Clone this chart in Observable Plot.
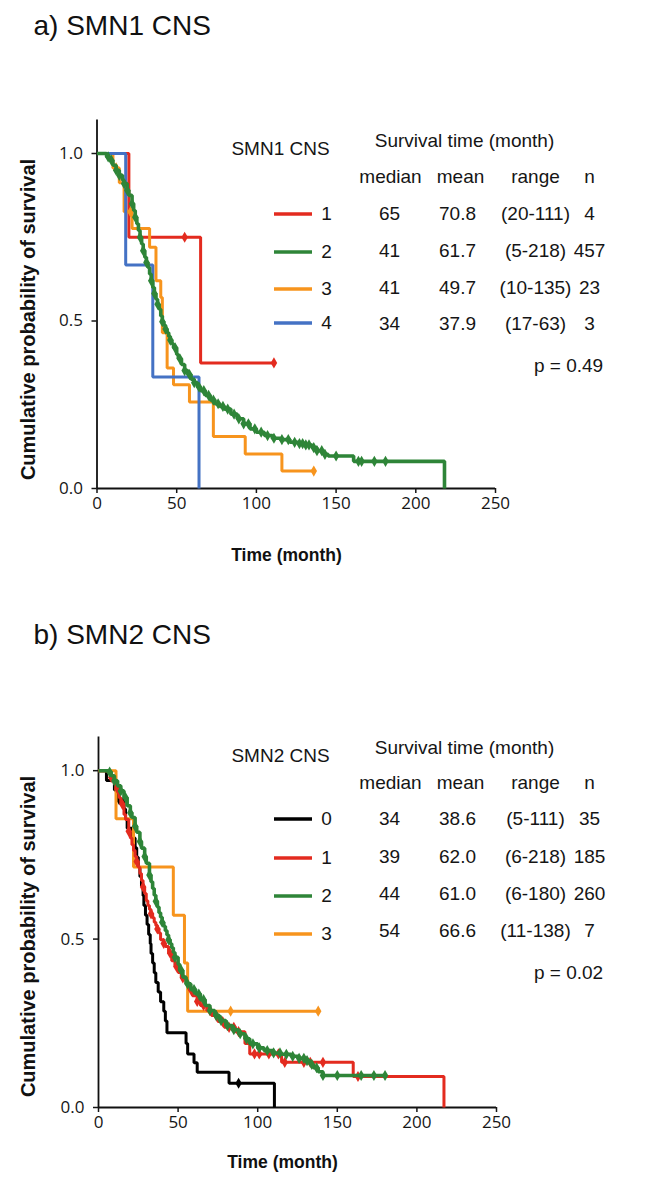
<!DOCTYPE html>
<html><head><meta charset="utf-8">
<script src="https://cdn.jsdelivr.net/npm/d3@7"></script>
<script src="https://cdn.jsdelivr.net/npm/@observablehq/plot@0.6"></script>
<style>
html,body{margin:0;padding:0;background:#fff;}
#chart{width:649px;height:1183px;}
svg{display:block;}
</style></head><body><div id="chart"></div>
<script>
// ---------- shared ----------
const xTicks = [0, 50, 100, 150, 200, 250];
const yTicks = [0, 0.5, 1.0];
const xLabel = "Time (month)";
const yLabel = "Cumulative probability of survival";
const colHeader = "Survival time (month)";
const colNames = ["median", "mean", "range", "n"];

// ---------- panel a: SMN1 CNS ----------
const aTitle = "a) SMN1 CNS";
const aLegendTitle = "SMN1 CNS";
const aGroups = ["1", "2", "3", "4"];
const aColors = ["#e32b1f", "#2e8538", "#f7941d", "#4472c4"];
const aMedian = ["65", "41", "41", "34"];
const aMean = ["70.8", "61.7", "49.7", "37.9"];
const aRange = ["(20-111)", "(5-218)", "(10-135)", "(17-63)"];
const aN = ["4", "457", "23", "3"];
const aP = "p = 0.49";
// Kaplan–Meier steps: [time (month), survival after step]
const aSteps1 = [[0,1],[20,0.75],[65,0.375]];
const aSteps2 = [[0,1],[6,0.99],[8,0.98],[10,0.965],[12,0.95],[14,0.935],[16,0.92],[17,0.91],[19,0.89],[20,0.875],[22,0.85],[23,0.83],[24,0.81],[25,0.79],[26,0.77],[27,0.75],[28,0.73],[29,0.71],[30,0.69],[31,0.675],[32,0.66],[33,0.64],[34,0.62],[35,0.6],[36,0.582],[37,0.565],[38,0.55],[39,0.535],[40,0.515],[41,0.498],[42,0.487],[43,0.476],[44,0.465],[45,0.454],[46,0.443],[47,0.432],[48,0.42],[50,0.4],[51,0.387],[53,0.37],[55,0.352],[57,0.34],[59,0.326],[61,0.316],[63,0.303],[65,0.292],[68,0.278],[71,0.264],[74,0.253],[77,0.245],[80,0.237],[84,0.222],[88,0.208],[92,0.193],[96,0.178],[100,0.168],[105,0.158],[110,0.15],[115,0.146],[121,0.138],[126,0.134],[131,0.13],[135,0.122],[138,0.113],[142,0.102],[145,0.097],[161,0.081],[218,0]];
const aSteps3 = [[0,1],[10,0.957],[14,0.913],[17,0.826],[22,0.776],[33,0.72],[37,0.62],[40,0.57],[41,0.465],[44,0.36],[48,0.31],[58,0.258],[73,0.155],[93,0.103],[116,0.052]];
const aSteps4 = [[0,1],[18,0.667],[35,0.333],[64,0]];
const aEnd = [111, 218, 136, 64];
const aCens1 = [55, 111];
const aCens2 = [7,9,12,14,17,19,22,24,27,29,31,34,36,38,41,43,46,49,52,55,58,61,64,67,70,73,76,79,82,86,89,92,95,99,103,107,111,116,120,124,127,129,131,133,136,138,141,143,150,164,166,174,181];
const aCens3 = [12, 21, 136];
const aCens4 = [];

// ---------- panel b: SMN2 CNS ----------
const bTitle = "b) SMN2 CNS";
const bLegendTitle = "SMN2 CNS";
const bGroups = ["0", "1", "2", "3"];
const bColors = ["#000000", "#e32b1f", "#2e8538", "#f7941d"];
const bMedian = ["34", "39", "44", "54"];
const bMean = ["38.6", "62.0", "61.0", "66.6"];
const bRange = ["(5-111)", "(6-218)", "(6-180)", "(11-138)"];
const bN = ["35", "185", "260", "7"];
const bP = "p = 0.02";
const bSteps0 = [[0,1],[5,0.971],[10,0.943],[12,0.914],[16,0.886],[17,0.857],[18,0.829],[21,0.8],[23,0.771],[24,0.743],[25,0.714],[26,0.686],[27,0.657],[28,0.629],[28.5,0.6],[29.5,0.571],[30.5,0.543],[31.5,0.514],[32.5,0.486],[33,0.457],[34,0.429],[35,0.4],[36,0.371],[37.5,0.343],[39,0.314],[41,0.286],[42,0.257],[43,0.222],[55,0.19],[56,0.159],[60,0.133],[62,0.105],[82,0.072],[110.5,0]];
const bSteps1 = [[0,1],[6,0.995],[8,0.98],[10,0.96],[11,0.945],[13,0.92],[14,0.9],[16,0.87],[17,0.855],[19,0.82],[20,0.8],[21,0.78],[22,0.763],[23,0.745],[24,0.73],[25,0.713],[26,0.695],[27,0.674],[28,0.655],[29,0.635],[30,0.614],[31,0.6],[32,0.588],[33,0.575],[34,0.563],[35,0.55],[36,0.54],[37,0.53],[38,0.518],[39,0.498],[41,0.487],[42,0.478],[44,0.458],[46,0.436],[48,0.418],[50,0.401],[52,0.385],[55,0.367],[57,0.35],[59,0.332],[62,0.315],[64,0.303],[68,0.288],[71,0.273],[75,0.255],[79,0.238],[86,0.225],[92,0.19],[95,0.159],[115,0.134],[160,0.092],[217,0]];
const bSteps2 = [[0,1],[6,0.996],[8,0.985],[10,0.97],[12,0.955],[14,0.94],[16,0.92],[18,0.896],[20,0.875],[21,0.861],[23,0.835],[24,0.817],[26,0.79],[27,0.77],[29,0.745],[30,0.725],[32,0.69],[33,0.67],[34,0.65],[35,0.63],[36,0.612],[37,0.595],[38,0.578],[39,0.565],[40,0.55],[41,0.538],[42,0.525],[43,0.512],[44,0.498],[45,0.486],[46,0.474],[47,0.46],[48,0.446],[50,0.425],[51,0.407],[53,0.387],[55,0.367],[58,0.35],[61,0.337],[64,0.32],[67,0.303],[70,0.288],[73,0.273],[76,0.258],[80,0.243],[84,0.231],[88,0.219],[92,0.204],[95,0.189],[100,0.177],[104,0.169],[110,0.162],[115,0.158],[121,0.152],[126,0.146],[131,0.139],[133,0.128],[135,0.118],[138,0.106],[141,0.095]];
const bSteps3 = [[0,1],[11,0.857],[22,0.714],[47,0.571],[54,0.429],[56,0.286]];
const bEnd = [110.5, 217, 180, 138];
const bCens0 = [13, 88];
const bCens1 = [8,12,15,19,24,28,33,37,41,45,49,53,58,62,66,70,74,78,82,85,88,98,101,107,113,117,129,133,141,163];
const bCens2 = [7,10,14,17,20,23,26,29,32,36,40,44,48,52,56,60,63,66,70,74,77,81,85,89,93,97,101,106,110,114,118,122,126,129,131,134,137,141,150,165,173,180];
const bCens3 = [83, 138];

// ---------- helpers ----------
const FONT = "Liberation Sans, Arial, sans-serif";
const TICKFONT = "Open Sans, Liberation Sans, sans-serif";

function survAt(steps, t) {
  let s = 1;
  for (const [tt, ss] of steps) if (tt <= t) s = ss;
  return s;
}
function lineData(steps, end, group) {
  const d = steps.map(([t, s]) => ({t, s, group}));
  const last = steps[steps.length - 1];
  if (end > last[0]) d.push({t: end, s: last[1], group});
  return d;
}
function censData(steps, cens, group) {
  return cens.map(t => ({t, s: survAt(steps, t), group}));
}

function panel(cfg) {
  const {H, ml, mr, mt, mb, steps, ends, cens, colors, order, groups, medians, means, ranges, ns, p, title, legendTitle, L} = cfg;
  const at = (px, py) => ({frameAnchor: "top-left", dx: px - ml, dy: py - mt});
  const txt = (s, px, py, o = {}) => Plot.text([s], {text: d => d, ...at(px, py), textAnchor: "middle", lineAnchor: "middle", fontFamily: FONT, fontSize: 19, fill: "#151515", ...o});

  const marks = [];
  // axis lines
  marks.push(Plot.ruleX([0], {stroke: "#111", strokeWidth: 1.8}));
  marks.push(Plot.ruleY([0], {stroke: "#111", strokeWidth: 1.8}));
  marks.push(Plot.axisX({ticks: xTicks, tickSize: 5, tickPadding: 3, label: null, fontSize: 17, fontFamily: TICKFONT, color: "#151515", strokeWidth: 1.5}));
  marks.push(Plot.axisY({ticks: yTicks, tickFormat: d3.format(".1f"), tickSize: 5, tickPadding: 9, label: null, fontSize: 17, fontFamily: TICKFONT, color: "#151515", strokeWidth: 1.5}));
  // curves
  for (const i of order) {
    const w = colors[i] === "#2e8538" ? 3.6 : 3;
    marks.push(Plot.line(lineData(steps[i], ends[i], groups[i]), {x: "t", y: "s", curve: "step-after", stroke: colors[i], strokeWidth: w, strokeLinejoin: "miter", strokeLinecap: "butt"}));
    marks.push(Plot.dot(censData(steps[i], cens[i], groups[i]), {x: "t", y: "s", symbol: "diamond", r: 3.4, fill: colors[i], stroke: null}));
  }
  // titles and axis labels
  marks.push(txt(title, L.title[0], L.title[1], {fontSize: 28, textAnchor: "start", fill: "#111"}));
  marks.push(txt(yLabel, L.ylab[0], L.ylab[1], {fontSize: 20, fontWeight: "bold", rotate: -90, fill: "#111"}));
  marks.push(txt(xLabel, L.xlab[0], L.xlab[1], {fontSize: 17.5, fontWeight: "bold", fill: "#111"}));
  // legend table
  marks.push(txt(legendTitle, 280, L.legTitle));
  marks.push(txt(colHeader, 464, L.header));
  const colX = [390, 460, 535, 589];
  colNames.forEach((c, j) => marks.push(txt(c, colX[j], L.cols)));
  const valX = [389, 457, 535, 589];
  groups.forEach((g, i) => {
    const y = L.rows[i];
    marks.push(txt(g, 326, L.labs[i]));
    marks.push(txt(medians[i], valX[0], y));
    marks.push(txt(means[i], valX[1], y));
    marks.push(txt(ranges[i], valX[2], y));
    marks.push(txt(ns[i], valX[3], y));
  });
  marks.push(txt(p, 568, L.p));
  // legend swatches (plain SVG lines in pixel space)
  marks.push(() => {
    const g = d3.create("svg:g");
    groups.forEach((_, i) => {
      g.append("line").attr("x1", 274).attr("x2", 312).attr("y1", L.labs[i] + 1).attr("y2", L.labs[i] + 1)
        .attr("stroke", colors[i]).attr("stroke-width", 3.6);
    });
    return g.node();
  });

  return Plot.plot({
    width: 649, height: H,
    marginLeft: ml, marginRight: mr, marginTop: mt, marginBottom: mb,
    x: {domain: [0, 250]},
    y: {domain: [0, 1.1]},
    style: {background: "#fff", overflow: "visible"},
    marks
  });
}

const chart = document.getElementById("chart");
chart.appendChild(panel({
  H: 590, ml: 96.5, mr: 154, mt: 119.5, mb: 102,
  steps: [aSteps1, aSteps2, aSteps3, aSteps4], ends: aEnd, cens: [aCens1, aCens2, aCens3, aCens4],
  colors: aColors, order: [0, 2, 3, 1], groups: aGroups,
  medians: aMedian, means: aMean, ranges: aRange, ns: aN, p: aP,
  title: aTitle, legendTitle: aLegendTitle,
  L: {title: [33, 26], ylab: [28, 319], xlab: [286, 555], legTitle: 148, header: 140, cols: 176,
      rows: [213, 250, 287, 323], labs: [213, 251, 288, 322], p: 365}
}));
chart.appendChild(panel({
  H: 593, ml: 98, mr: 153, mt: 146.5, mb: 76,
  steps: [bSteps0, bSteps1, bSteps2, bSteps3], ends: bEnd, cens: [bCens0, bCens1, bCens2, bCens3],
  colors: bColors, order: [0, 3, 1, 2], groups: bGroups,
  medians: bMedian, means: bMean, ranges: bRange, ns: bN, p: bP,
  title: bTitle, legendTitle: bLegendTitle,
  L: {title: [33, 45], ylab: [28, 346], xlab: [282, 572], legTitle: 165, header: 157, cols: 192,
      rows: [228, 266, 303, 340], labs: [228, 267, 305, 343], p: 382}
}));
</script></body></html>
